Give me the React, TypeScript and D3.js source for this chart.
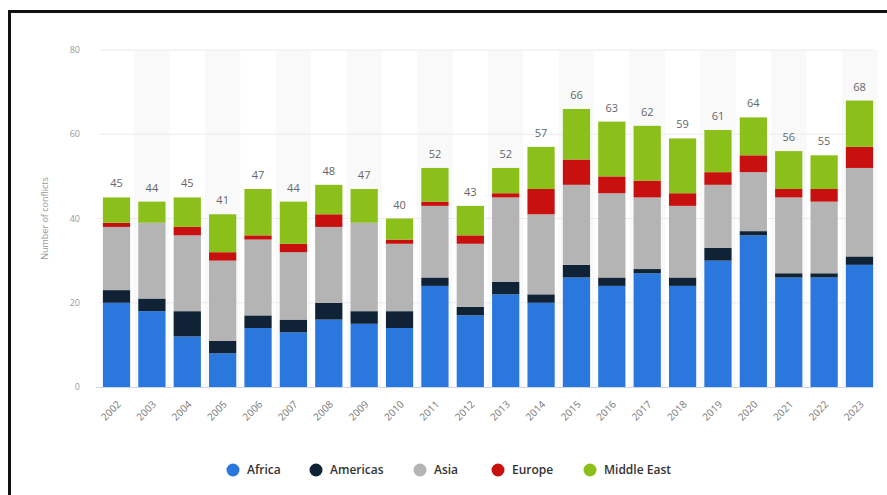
import React, { useEffect, useRef } from 'react';
import * as d3 from 'd3';

const years = [
  '2002', '2003', '2004', '2005', '2006', '2007', '2008', '2009', '2010', '2011', '2012',
  '2013', '2014', '2015', '2016', '2017', '2018', '2019', '2020', '2021', '2022', '2023',
];

const africa = [20, 18, 12, 8, 14, 13, 16, 15, 14, 24, 17, 22, 20, 26, 24, 27, 24, 30, 36, 26, 26, 29];
const americas = [3, 3, 6, 3, 3, 3, 4, 3, 4, 2, 2, 3, 2, 3, 2, 1, 2, 3, 1, 1, 1, 2];
const asia = [15, 18, 18, 19, 18, 16, 18, 21, 16, 17, 15, 20, 19, 19, 20, 17, 17, 15, 14, 18, 17, 21];
const europe = [1, 0, 2, 2, 1, 2, 3, 0, 1, 1, 2, 1, 6, 6, 4, 4, 3, 3, 4, 2, 3, 5];
const middleEast = [6, 5, 7, 9, 11, 10, 7, 8, 5, 8, 7, 6, 10, 12, 13, 13, 13, 10, 9, 9, 8, 11];

const seriesNames = ['Africa', 'Americas', 'Asia', 'Europe', 'Middle East'];
const seriesColors = ['#2a78de', '#0f2236', '#b4b4b4', '#c8100f', '#8bbf1a'];
const yTicks = [0, 20, 40, 60, 80];

const W = 887;
const H = 495;

const App: React.FC = () => {
  const svgRef = useRef<SVGSVGElement>(null);

  useEffect(() => {
    document.body.style.margin = '0';
    if (!svgRef.current) return;

    const margin = { top: 50, right: 10, bottom: 108, left: 99 };
    const innerWidth = W - margin.left - margin.right;
    const innerHeight = H - margin.top - margin.bottom;

    d3.select(svgRef.current).selectAll('*').remove();

    const root = d3.select(svgRef.current)
      .attr('width', W)
      .attr('height', H)
      .style('font-family', '"Open Sans", sans-serif');

    root.append('rect')
      .attr('width', W).attr('height', H).attr('fill', '#fff');

    // frame of the screenshot
    root.append('rect')
      .attr('x', 9.5).attr('y', 11.5)
      .attr('width', W + 20).attr('height', H + 20)
      .attr('fill', 'none').attr('stroke', '#111').attr('stroke-width', 3);

    const svg = root.append('g')
      .attr('transform', `translate(${margin.left},${margin.top})`);

    const x = d3.scaleBand()
      .domain(years)
      .range([0, innerWidth])
      .paddingInner(0.23)
      .paddingOuter(0.11);

    const y = d3.scaleLinear()
      .domain([0, 80])
      .range([innerHeight, 0]);

    const step = x.step();

    // alternating column bands
    svg.selectAll('rect.band')
      .data(years.filter((_, i) => i % 2 === 1))
      .enter()
      .append('rect')
      .attr('class', 'band')
      .attr('x', d => (x(d) || 0) + x.bandwidth() / 2 - step / 2)
      .attr('y', y(80))
      .attr('width', step)
      .attr('height', innerHeight - y(80))
      .attr('fill', '#f9f9f9');

    // gridlines
    svg.selectAll('line.grid')
      .data(yTicks.filter(t => t > 0))
      .enter()
      .append('line')
      .attr('class', 'grid')
      .attr('x1', 0)
      .attr('x2', innerWidth - 4)
      .attr('y1', d => y(d))
      .attr('y2', d => y(d))
      .attr('stroke', '#ebebeb');

    svg.append('line')
      .attr('x1', -3).attr('x2', innerWidth - 4)
      .attr('y1', innerHeight + 0.5).attr('y2', innerHeight + 0.5)
      .attr('stroke', '#ccd6eb');

    // stacked data
    const rows = years.map((year, i) => ({
      year,
      Africa: africa[i],
      Americas: americas[i],
      Asia: asia[i],
      Europe: europe[i],
      'Middle East': middleEast[i],
    }));

    const stack = d3.stack<any>().keys(seriesNames);
    const layers = stack(rows);

    svg.selectAll('g.layer')
      .data(layers)
      .enter()
      .append('g')
      .attr('class', 'layer')
      .attr('fill', (_, i) => seriesColors[i])
      .selectAll('rect')
      .data(d => d)
      .enter()
      .append('rect')
      .attr('x', d => x(d.data.year) || 0)
      .attr('y', d => y(d[1]))
      .attr('width', x.bandwidth())
      .attr('height', d => y(d[0]) - y(d[1]));

    // totals above bars
    svg.selectAll('text.total')
      .data(rows)
      .enter()
      .append('text')
      .attr('class', 'total')
      .attr('x', d => (x(d.year) || 0) + x.bandwidth() / 2)
      .attr('y', (d, i) => y(africa[i] + americas[i] + asia[i] + europe[i] + middleEast[i]) - 10)
      .attr('text-anchor', 'middle')
      .attr('font-size', 11)
      .attr('fill', '#666')
      .text((d, i) => africa[i] + americas[i] + asia[i] + europe[i] + middleEast[i]);

    // y axis labels
    svg.selectAll('text.ytick')
      .data(yTicks)
      .enter()
      .append('text')
      .attr('class', 'ytick')
      .attr('x', -19)
      .attr('y', d => y(d))
      .attr('dy', '0.35em')
      .attr('text-anchor', 'end')
      .attr('font-size', 9)
      .attr('fill', '#999')
      .text(d => d);

    svg.append('text')
      .attr('transform', `translate(${45 - margin.left},${innerHeight / 2}) rotate(-90)`)
      .attr('text-anchor', 'middle')
      .attr('dy', '0.35em')
      .attr('font-size', 9)
      .attr('fill', '#999')
      .text('Number of conflicts');

    // x axis labels
    svg.selectAll('text.xtick')
      .data(years)
      .enter()
      .append('text')
      .attr('class', 'xtick')
      .attr('transform', d => `translate(${(x(d) || 0) + x.bandwidth() / 2 + 5},${innerHeight + 18}) rotate(-45)`)
      .attr('text-anchor', 'end')
      .attr('font-size', 10)
      .attr('fill', '#777')
      .text(d => d);

    // legend
    const legendX = [233, 316, 420, 498, 590];
    const legend = root.append('g').attr('transform', 'translate(0,470)');
    seriesNames.forEach((name, i) => {
      legend.append('circle')
        .attr('cx', legendX[i]).attr('cy', 0).attr('r', 6.5)
        .attr('fill', seriesColors[i]);
      legend.append('text')
        .attr('x', legendX[i] + 14).attr('y', 0)
        .attr('dy', '0.35em')
        .attr('font-size', 12)
        .attr('font-weight', 600)
        .attr('fill', '#333')
        .text(name);
    });
  }, []);

  return <svg ref={svgRef} style={{ display: 'block' }}></svg>;
};

export default App;
